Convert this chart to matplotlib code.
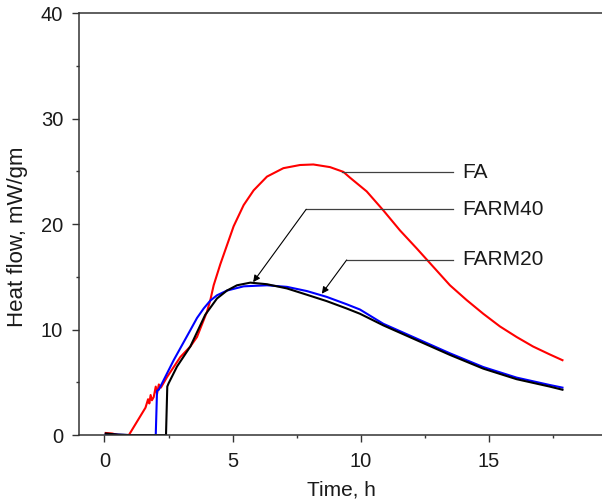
import matplotlib
matplotlib.use("Agg")
import matplotlib.pyplot as plt
from matplotlib.ticker import MultipleLocator

plt.rcParams['font.family'] = ['Liberation Sans', 'DejaVu Sans']

# FA (red)
fa_t = [0.05, 0.3, 0.55, 0.95, 1.3, 1.6, 1.7, 1.75, 1.8, 1.85, 1.92, 2.0, 2.05, 2.12,
        2.2, 2.44, 2.96, 3.35, 3.61, 3.87, 4.0, 4.13, 4.26, 4.52, 4.78, 5.04, 5.43,
        5.82, 6.34, 6.98, 7.63, 8.15, 8.8, 9.32, 9.58, 10.23, 10.88, 11.53, 12.18,
        12.83, 13.48, 14.13, 14.78, 15.43, 16.08, 16.72, 17.37, 17.87]
fa_v = [0.2, 0.15, 0.0, 0.0, 1.4, 2.6, 3.4, 3.0, 3.8, 3.3, 3.6, 4.6, 3.9, 4.8,
        4.5, 5.5, 7.4, 8.4, 9.3, 10.9, 11.7, 12.8, 14.2, 16.2, 18.0, 19.8, 21.8,
        23.2, 24.5, 25.3, 25.6, 25.65, 25.4, 24.95, 24.4, 23.1, 21.3, 19.4, 17.7,
        15.95, 14.2, 12.8, 11.5, 10.3, 9.3, 8.4, 7.65, 7.1]

# FARM20 (blue)
b_t = [0.05, 0.5, 1.0, 2.0, 2.05, 2.12, 2.7, 3.35, 3.61, 3.87, 4.13, 4.39, 4.78, 5.43,
       6.34, 7.12, 7.9, 8.67, 9.45, 9.97, 10.88, 12.18, 13.48, 14.78, 16.08, 17.37, 17.87]
b_v = [0.1, 0.05, 0.0, 0.0, 4.2, 4.3, 7.1, 9.95, 11.1, 12.0, 12.75, 13.25, 13.7, 14.1,
       14.2, 14.05, 13.65, 13.1, 12.4, 11.9, 10.55, 9.15, 7.75, 6.45, 5.45, 4.75, 4.5]

# FARM40 (black)
k_t = [0.05, 0.5, 1.0, 2.4, 2.45, 2.5, 2.83, 3.35, 3.93, 4.39, 4.78, 5.17, 5.69, 6.34,
       7.12, 7.9, 8.67, 9.45, 9.97, 10.88, 12.18, 13.48, 14.78, 16.08, 17.37, 17.87]
k_v = [0.15, 0.05, 0.0, 0.0, 4.6, 4.9, 6.5, 8.4, 11.4, 12.95, 13.7, 14.2, 14.45, 14.3,
       13.9, 13.3, 12.7, 12.0, 11.5, 10.4, 9.0, 7.6, 6.3, 5.3, 4.6, 4.3]

labels = ['FA', 'FARM40', 'FARM20']
label_y = [24.9, 21.4, 16.6]
elbow_t = [9.27, 7.87, 9.45]
tip = [(9.27, 24.9), (5.8, 14.5), (8.48, 13.4)]

fig = plt.figure(figsize=(6.02, 5.03), dpi=100)
ax = fig.add_axes([0.131, 0.135, 0.894, 0.839])

ax.plot(fa_t, fa_v, color='#ff0000', lw=1.5)
ax.plot(b_t, b_v, color='#0000ff', lw=1.5)
ax.plot(k_t, k_v, color='black', lw=1.5)

for lab, ly, et, tp in zip(labels, label_y, elbow_t, tip):
    ax.plot([et, 13.6], [ly, ly], color='#404040', lw=0.9)
    ax.annotate('', xy=tp, xytext=(et, ly),
                arrowprops=dict(arrowstyle='-|>', color='black', lw=0.8,
                                mutation_scale=10, shrinkA=0, shrinkB=0))
    ax.text(13.95, ly, lab, fontsize=15, va='center', ha='left', color='#1a1a1a')

ax.set_xlim(-1, 20)
ax.set_ylim(0, 40)
ax.xaxis.set_major_locator(MultipleLocator(5))
ax.xaxis.set_minor_locator(MultipleLocator(2.5))
ax.yaxis.set_major_locator(MultipleLocator(10))
ax.yaxis.set_minor_locator(MultipleLocator(5))
ax.set_xticks([0, 5, 10, 15])

for s in ax.spines.values():
    s.set_linewidth(1.1)
    s.set_color('#333333')
ax.spines['right'].set_visible(False)

ax.tick_params(which='major', direction='out', length=5.3, width=1, color='#333333',
               labelsize=14.5, labelcolor='#1a1a1a', pad=7)
ax.tick_params(which='minor', direction='out', length=2.4, width=1, color='#333333')
ax.tick_params(axis='y', which='major', pad=6)

ax.set_xlabel('Time, h', fontsize=15, color='#1a1a1a')
ax.set_ylabel('Heat flow, mW/gm', fontsize=16, color='#1a1a1a')
ax.xaxis.set_label_coords(0.488, -0.108)
ax.yaxis.set_label_coords(-0.095, 0.469)

fig.savefig('out.png', dpi=100)
